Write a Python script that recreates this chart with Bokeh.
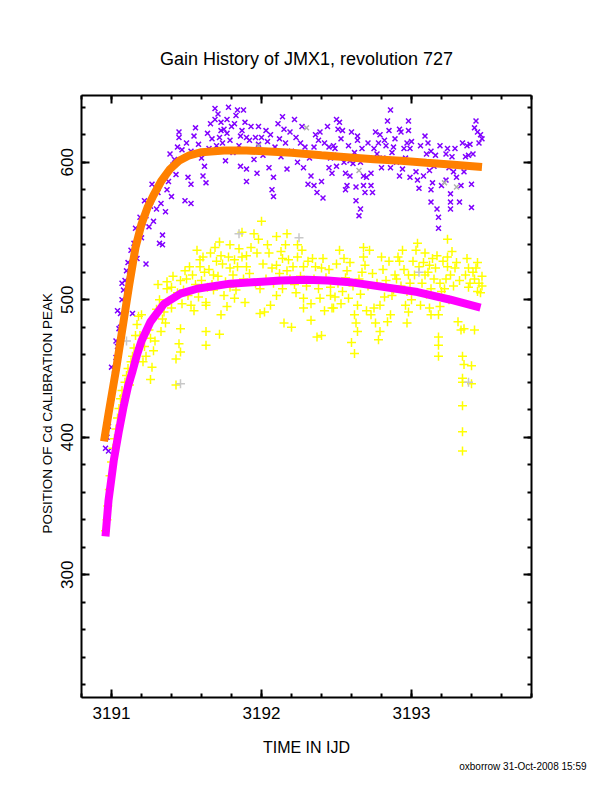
from bokeh.plotting import figure
from bokeh.models import Range1d, LinearAxis, FixedTicker, Title
from bokeh.embed import file_html
from bokeh.resources import INLINE

# upper detector line (purple x) : time in IJD, peak position
upper_t = [3190.96, 3190.96, 3190.97, 3190.98, 3190.98, 3190.99, 3191.00, 3191.00, 3191.01, 3191.02,
           3191.03, 3191.03, 3191.04, 3191.04, 3191.05, 3191.06, 3191.07, 3191.07, 3191.08, 3191.09,
           3191.10, 3191.11, 3191.13, 3191.13, 3191.14, 3191.15, 3191.16, 3191.18, 3191.19, 3191.21,
           3191.22, 3191.23, 3191.23, 3191.24, 3191.26, 3191.28, 3191.30, 3191.32, 3191.33, 3191.34,
           3191.34, 3191.36, 3191.37, 3191.38, 3191.39, 3191.40, 3191.42, 3191.43, 3191.45, 3191.45,
           3191.47, 3191.49, 3191.51, 3191.53, 3191.53, 3191.53, 3191.55, 3191.58, 3191.61, 3191.62,
           3191.63, 3191.65, 3191.67, 3191.69, 3191.69, 3191.72, 3191.73, 3191.73, 3191.75, 3191.76,
           3191.77, 3191.77, 3191.78, 3191.79, 3191.82, 3191.83, 3191.84, 3191.86, 3191.86, 3191.87,
           3191.88, 3191.90, 3191.90, 3191.90, 3191.92, 3191.93, 3191.95, 3191.96, 3191.97, 3191.98,
           3191.98, 3192.03, 3192.04, 3192.05, 3192.07, 3192.08, 3192.08, 3192.12, 3192.14, 3192.15,
           3192.17, 3192.22, 3192.23, 3192.24, 3192.28, 3192.29, 3192.31, 3192.33, 3192.35, 3192.35,
           3192.37, 3192.38, 3192.39, 3192.40, 3192.41, 3192.45, 3192.45, 3192.47, 3192.48, 3192.48,
           3192.49, 3192.50, 3192.50, 3192.51, 3192.52, 3192.53, 3192.54, 3192.55, 3192.56, 3192.56,
           3192.57, 3192.59, 3192.59, 3192.61, 3192.63, 3192.63, 3192.64, 3192.64, 3192.65, 3192.66,
           3192.67, 3192.68, 3192.68, 3192.69, 3192.70, 3192.73, 3192.73, 3192.74, 3192.75, 3192.76,
           3192.78, 3192.80, 3192.82, 3192.84, 3192.85, 3192.86, 3192.86, 3192.87, 3192.88, 3192.92,
           3192.92, 3192.93, 3192.94, 3192.97, 3192.98, 3192.98, 3192.99, 3192.99, 3193.03, 3193.04,
           3193.05, 3193.06, 3193.09, 3193.10, 3193.12, 3193.13, 3193.13, 3193.13, 3193.14, 3193.16,
           3193.17, 3193.18, 3193.18, 3193.20, 3193.23, 3193.23, 3193.24, 3193.26, 3193.26, 3193.26,
           3193.28, 3193.29, 3193.30, 3193.32, 3193.33, 3193.34, 3193.35, 3193.36, 3193.38, 3193.39,
           3193.40, 3193.40, 3193.42, 3193.44, 3193.45, 3193.47,
           3191.50, 3191.56, 3191.60, 3191.64, 3191.66, 3191.70, 3191.71, 3191.74, 3191.80, 3191.81,
           3191.85, 3191.89, 3191.94, 3192.00, 3192.01, 3192.06, 3192.09, 3192.11, 3192.13, 3192.16,
           3192.19, 3192.20, 3192.26, 3192.27, 3192.32, 3192.36, 3192.42, 3192.44, 3192.46, 3192.58,
           3192.60, 3192.62, 3192.66, 3192.71, 3192.72, 3192.77, 3192.79, 3192.81, 3192.83, 3192.89,
           3192.90, 3192.95, 3192.96, 3193.00, 3193.01, 3193.07, 3193.08, 3193.11, 3193.15, 3193.19,
           3193.21, 3193.25, 3193.27, 3193.31, 3193.37, 3193.41, 3193.43, 3193.46, 3191.44, 3191.41,
           3191.36, 3191.31, 3191.27, 3191.25, 3191.20, 3191.17, 3191.12, 3191.06]
upper_pos = [392, 403, 400, 390, 408, 422, 428, 451, 436, 446,
             458, 470, 466, 492, 479, 490, 500, 512, 507, 514,
             521, 527, 526, 536, 490, 541, 552, 546, 560, 556,
             572, 526, 561, 570, 568, 557, 566, 541, 570, 547,
             540, 564, 580, 586, 606, 575, 602, 591, 622, 618,
             609, 572, 589, 584, 570, 608, 619, 613, 590, 597,
             585, 610, 617, 639, 631, 618, 629, 623, 624, 601,
             631, 621, 640, 616, 628, 634, 638, 619, 597, 623,
             638, 618, 595, 586, 616, 626, 602, 618, 592, 626,
             613, 623, 615, 596, 580, 589, 575, 617, 633, 624,
             595, 631, 618, 600, 596, 611, 584, 590, 611, 583,
             578, 616, 622, 586, 574, 611, 596, 592, 612, 605,
             610, 631, 597, 624, 629, 617, 623, 600, 592, 580,
             583, 590, 601, 599, 582, 572, 619, 616, 561, 566,
             610, 590, 583, 578, 589, 592, 583, 578, 610, 622,
             614, 596, 616, 630, 623, 638, 596, 607, 611, 624,
             590, 622, 595, 614, 630, 623, 610, 589, 593, 587,
             581, 612, 619, 606, 594, 608, 580, 571, 585, 605,
             566, 560, 552, 583, 587, 606, 610, 571, 566, 577,
             593, 610, 589, 571, 583, 614, 593, 604, 605, 613,
             584, 567, 625, 622, 614, 617,
             614, 625, 603, 621, 628, 612, 635, 614, 626, 607,
             612, 629, 608, 618, 605, 620, 611, 628, 604, 614,
             622, 608, 614, 626, 603, 620, 614, 626, 603, 612,
             622, 607, 600, 614, 603, 606, 620, 603, 612, 617,
             600, 610, 603, 615, 600, 600, 590, 614, 597, 612,
             599, 596, 604, 598, 612, 606, 630, 620, 611, 598,
             590, 578, 584, 553, 545, 530, 518, 480]

# lower detector line (yellow +)
lower_t = [3190.96, 3190.97, 3190.975, 3190.985, 3190.99, 3191.00, 3191.01, 3191.02, 3191.03, 3191.04,
           3191.05, 3191.06, 3191.07, 3191.08, 3191.09, 3191.10, 3191.11, 3191.12, 3191.13, 3191.14,
           3191.15, 3191.16, 3191.17, 3191.19, 3191.20, 3191.23, 3191.26, 3191.26, 3191.27, 3191.28,
           3191.31, 3191.32, 3191.33, 3191.34, 3191.35, 3191.37, 3191.37, 3191.40, 3191.40, 3191.43,
           3191.43, 3191.45, 3191.46, 3191.46, 3191.46, 3191.48, 3191.49, 3191.52, 3191.53, 3191.54,
           3191.55, 3191.56, 3191.57, 3191.58, 3191.59, 3191.59, 3191.62, 3191.63, 3191.63, 3191.63,
           3191.63, 3191.64, 3191.66, 3191.68, 3191.68, 3191.70, 3191.72, 3191.72, 3191.73, 3191.73,
           3191.75, 3191.77, 3191.79, 3191.79, 3191.79, 3191.82, 3191.82, 3191.85, 3191.87, 3191.87,
           3191.89, 3191.90, 3191.90, 3191.95, 3191.97, 3191.98, 3191.99, 3191.99, 3192.00, 3192.02,
           3192.05, 3192.06, 3192.07, 3192.10, 3192.10, 3192.10, 3192.14, 3192.14, 3192.15, 3192.16,
           3192.17, 3192.17, 3192.18, 3192.20, 3192.22, 3192.24, 3192.24, 3192.27, 3192.28, 3192.28,
           3192.28, 3192.33, 3192.33, 3192.34, 3192.36, 3192.37, 3192.39, 3192.40, 3192.40, 3192.42,
           3192.46, 3192.46, 3192.47, 3192.48, 3192.49, 3192.50, 3192.53, 3192.55, 3192.57, 3192.58,
           3192.60, 3192.62, 3192.62, 3192.63, 3192.64, 3192.64, 3192.67, 3192.68, 3192.68, 3192.70,
           3192.73, 3192.74, 3192.75, 3192.76, 3192.78, 3192.79, 3192.79, 3192.80, 3192.82, 3192.84,
           3192.85, 3192.86, 3192.87, 3192.89, 3192.90, 3192.92, 3192.94, 3192.96, 3192.97, 3192.97,
           3192.98, 3192.98, 3193.01, 3193.03, 3193.05, 3193.06, 3193.09, 3193.09, 3193.12, 3193.12,
           3193.13, 3193.13, 3193.15, 3193.16, 3193.17, 3193.18, 3193.18, 3193.18, 3193.18, 3193.19,
           3193.20, 3193.23, 3193.24, 3193.24, 3193.24, 3193.25, 3193.29, 3193.31, 3193.32, 3193.33,
           3193.34, 3193.34, 3193.34, 3193.34, 3193.34, 3193.34, 3193.35, 3193.35, 3193.38, 3193.38,
           3193.40, 3193.40, 3193.42, 3193.42, 3193.43, 3193.44, 3193.45, 3193.46, 3193.47,
           3191.50, 3191.51, 3191.60, 3191.61, 3191.65, 3191.67, 3191.69, 3191.71, 3191.74, 3191.76,
           3191.78, 3191.81, 3191.83, 3191.84, 3191.88, 3191.92, 3191.93, 3191.96, 3192.01, 3192.03,
           3192.04, 3192.08, 3192.12, 3192.13, 3192.19, 3192.21, 3192.23, 3192.26, 3192.30, 3192.31,
           3192.35, 3192.38, 3192.41, 3192.43, 3192.45, 3192.51, 3192.52, 3192.54, 3192.56, 3192.59,
           3192.61, 3192.65, 3192.66, 3192.69, 3192.71, 3192.72, 3192.77, 3192.81, 3192.83, 3192.88,
           3192.91, 3192.93, 3192.95, 3192.99, 3193.00, 3193.02, 3193.04, 3193.07, 3193.08, 3193.10,
           3193.11, 3193.14, 3193.19, 3193.21, 3193.22, 3193.26, 3193.27, 3193.28, 3193.30, 3193.36,
           3193.37, 3193.39, 3193.41, 3193.44, 3193.47, 3191.47, 3191.44, 3191.41, 3191.38, 3191.36,
           3191.30, 3191.29, 3191.25, 3191.22, 3191.18, 3191.21]
lower_pos = [332, 340, 350, 362, 372, 382, 392, 399, 406, 414,
             421, 428, 434, 430, 440, 445, 450, 438, 455, 459,
             465, 474, 482, 474, 489, 459, 472, 442, 451, 463,
             511, 500, 477, 486, 491, 513, 508, 509, 494, 457,
             438, 468, 514, 479, 462, 507, 521, 524, 496, 518,
             492, 511, 536, 502, 529, 524, 520, 498, 496, 477,
             467, 509, 534, 518, 507, 528, 542, 475, 532, 489,
             503, 495, 540, 523, 509, 529, 501, 537, 549, 531,
             498, 532, 524, 548, 534, 544, 508, 490, 557, 491,
             534, 496, 523, 546, 525, 503, 530, 508, 483, 540,
             548, 521, 529, 480, 511, 540, 531, 536, 524, 501,
             494, 497, 485, 530, 524, 473, 501, 523, 474, 492,
             509, 503, 494, 494, 502, 526, 497, 530, 521, 501,
             469, 489, 461, 483, 496, 477, 520, 538, 531, 492,
             489, 519, 494, 483, 471, 496, 477, 531, 502, 484,
             528, 489, 503, 518, 515, 528, 536, 496, 506, 483,
             518, 491, 528, 536, 524, 496, 534, 518, 525, 494,
             508, 489, 515, 523, 532, 489, 473, 467, 459, 495,
             506, 515, 544, 531, 524, 500, 523, 484, 514, 478,
             459, 443, 440, 423, 404, 390, 479, 453, 523, 509,
             452, 439, 515, 478, 523, 506, 512, 505, 517,
             515, 503, 514, 531, 522, 511, 538, 517, 526, 513,
             531, 518, 507, 524, 515, 519, 538, 512, 526, 515,
             540, 512, 519, 535, 515, 524, 505, 517, 510, 528,
             515, 508, 530, 516, 522, 512, 536, 506, 516, 527,
             510, 515, 504, 525, 510, 536, 512, 522, 514, 507,
             531, 510, 522, 512, 500, 518, 541, 512, 527, 504,
             520, 530, 512, 528, 508, 518, 535, 510, 527, 518,
             530, 512, 520, 527, 510, 497, 505, 517, 499, 483,
             493, 470, 478, 466, 488, 455]

# rejected points (grey)
upper_rej_t = [3191.98, 3192.30, 3192.65, 3193.22, 3193.30, 3193.37]
upper_rej_pos = [612, 625, 594, 585, 582, 597]
lower_rej_t = [3191.10, 3191.46, 3191.85, 3192.25, 3193.05, 3193.38]
lower_rej_pos = [470, 439, 548, 545, 520, 440]

# fitted gain curves
upper_fit_t = [3190.95, 3190.98, 3191.03, 3191.08, 3191.12, 3191.16, 3191.20, 3191.24, 3191.28,
               3191.33, 3191.39, 3191.45, 3191.52, 3191.60, 3191.75, 3191.90, 3192.05, 3192.20,
               3192.40, 3192.59, 3192.75, 3192.93, 3193.10, 3193.26, 3193.47]
upper_fit_pos = [397, 417, 449, 484, 512, 538, 555, 567, 576,
                 586, 595, 601, 605, 607.3, 608.5, 608.5, 607.8, 606.8,
                 605, 603.5, 602.2, 601, 599.6, 598.3, 596.5]
lower_fit_t = [3190.96, 3190.98, 3191.015, 3191.05, 3191.08, 3191.11, 3191.14, 3191.17, 3191.20,
               3191.26, 3191.35, 3191.46, 3191.57, 3191.79, 3192.13, 3192.30, 3192.44, 3192.59,
               3192.82, 3193.04, 3193.26, 3193.46]
lower_fit_pos = [328, 354, 383, 405, 422, 437, 448, 460, 470,
                 484, 497, 504.5, 508, 511.7, 514, 514.5, 514, 512.8,
                 509.2, 505.6, 500, 494.3]

x_major = [3191, 3192, 3193]
y_major = [300, 400, 500, 600]

FONT = "Liberation Sans"

p = figure(frame_width=450, frame_height=602,
           x_range=Range1d(3190.8, 3193.8), y_range=Range1d(210.8, 648.5),
           min_border_left=81, min_border_right=81, min_border_top=95, min_border_bottom=95,
           output_backend="svg", toolbar_location=None)
p.outline_line_color = None
p.xgrid.visible = False
p.ygrid.visible = False

p.add_layout(LinearAxis(), "above")
p.add_layout(LinearAxis(), "right")

x_minor = [3190.8 + 0.2 * i for i in range(16)]
y_minor = [220 + 20 * i for i in range(22)]
for ax in p.xaxis:
    ax.ticker = FixedTicker(ticks=x_major, minor_ticks=x_minor)
for ax in p.yaxis:
    ax.ticker = FixedTicker(ticks=y_major, minor_ticks=y_minor)

for ax in p.axis:
    ax.axis_line_width = 2
    ax.major_tick_line_width = 2
    ax.minor_tick_line_width = 2
    ax.major_tick_in = 8
    ax.major_tick_out = 0
    ax.minor_tick_in = 4
    ax.minor_tick_out = 0
    ax.major_label_text_font = FONT
    ax.major_label_text_font_size = "17px"
    ax.major_label_text_color = "black"

p.above[0].major_label_text_color = None
p.above[0].major_label_text_font_size = "1px"
p.right[0].major_label_text_color = None
p.below[0].major_label_standoff = 9
p.left[0].major_label_standoff = 8
p.left[0].major_label_orientation = "vertical"

p.below[0].axis_label = "TIME IN IJD"
p.below[0].axis_label_text_font = FONT
p.below[0].axis_label_text_font_size = "16px"
p.below[0].axis_label_text_font_style = "normal"
p.below[0].axis_label_text_color = "black"
p.below[0].axis_label_standoff = 17

# data
p.scatter(upper_t, upper_pos, marker="x", size=7, line_width=1.5, color="#8000ff")
p.scatter(upper_rej_t, upper_rej_pos, marker="x", size=7, line_width=1.5, color="#b0b0b0")
p.scatter(lower_t, lower_pos, marker="cross", size=9, line_width=1.5, color="#ffff00")
p.scatter(lower_rej_t, lower_rej_pos, marker="cross", size=9, line_width=1.5, color="#c8c8c8")

# fits
p.line(upper_fit_t, upper_fit_pos, line_width=8, color="#ff8000")
p.line(lower_fit_t, lower_fit_pos, line_width=8, color="#ff00ff")

p.title.text = "Gain History of JMX1, revolution 727"
p.title.align = "center"
p.title.text_font = FONT
p.title.text_font_size = "18px"
p.title.text_font_style = "normal"
p.title.text_color = "black"
p.title.standoff = 54

p.add_layout(Title(text="POSITION OF Cd CALIBRATION PEAK", align="left", offset=164,
                   text_font=FONT, text_font_size="13.5px", text_font_style="normal",
                   text_color="black", standoff=8), "left")
p.add_layout(Title(text="oxborrow 31-Oct-2008 15:59", align="right", offset=-55,
                   text_font=FONT, text_font_size="10px", text_font_style="normal",
                   text_color="black", standoff=0), "below")

open("out.html", "w").write(file_html(p, INLINE))
